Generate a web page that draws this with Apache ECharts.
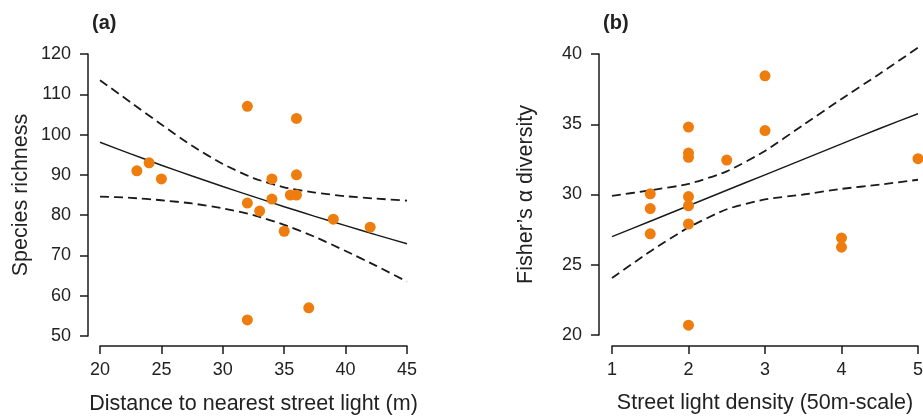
<!DOCTYPE html>
<html>
<head>
<meta charset="utf-8">
<script src="https://cdn.jsdelivr.net/npm/echarts@6/dist/echarts.min.js"></script>
<style>
  html, body { margin: 0; padding: 0; background: #fff; }
  #chart { width: 923px; height: 416px; }
</style>
</head>
<body>
<div id="chart"></div>
<script>
// panel (a): distance vs species richness
const distX = [23, 24, 25, 32, 36, 34, 36, 32, 33, 34, 35.5, 36, 35, 39, 42, 32, 37];
const richY = [91, 93, 89, 107, 104, 89, 90, 83, 81, 84, 85, 85, 76, 79, 77, 54, 57];
const fitAX = [20, 22.5, 25, 27.5, 30, 32.5, 35, 37.5, 40, 42.5, 45];
const fitA = [98.1, 95.2, 92.4, 89.7, 87.1, 84.6, 82.1, 79.7, 77.4, 75.1, 72.9];
const upA = [113.5, 108.0, 102.5, 97.2, 92.7, 89.2, 86.9, 85.6, 84.7, 84.1, 83.6];
const loA = [84.6, 84.3, 83.7, 82.9, 81.7, 80.0, 77.6, 74.6, 71.1, 67.4, 63.5];

// panel (b): light density vs Fisher's alpha
const densX = [1.5, 1.5, 1.5, 2, 2, 2, 2, 2, 2, 2, 2.5, 3, 3, 4, 4, 5];
const alphaY = [30.05, 29.0, 27.2, 34.8, 32.95, 32.65, 29.85, 29.2, 27.9, 20.7, 32.45, 38.45, 34.55, 26.9, 26.25, 32.55];
const fitBX = [1, 1.5, 2, 2.5, 3, 3.5, 4, 4.5, 5];
const fitB = [27.0, 28.1, 29.2, 30.3, 31.4, 32.5, 33.6, 34.7, 35.75];
const upB = [29.9, 30.3, 30.75, 31.65, 33.1, 34.95, 36.8, 38.6, 40.45];
const loB = [24.05, 25.95, 27.65, 28.95, 29.65, 30.0, 30.4, 30.7, 31.05];

const orange = '#EE7D0E';
const ink = '#1a1a1a';
const font = 'Liberation Sans, Arial, sans-serif';

const pairs = (xs, ys) => xs.map((x, i) => [x, ys[i]]);

const axisBase = {
  axisLine: { show: true, lineStyle: { color: ink, width: 1.5 } },
  axisTick: { show: true, length: 8, lineStyle: { color: ink, width: 1.5 } },
  axisLabel: { color: '#222', fontSize: 18, fontFamily: font, margin: 17 },
  splitLine: { show: false },
  nameLocation: 'middle',
  nameTextStyle: { color: '#222', fontSize: 21.5, fontFamily: font }
};
const xLabel = Object.assign({}, axisBase.axisLabel, { margin: 15 });

const lineSeries = (idx, data, dashed) => ({
  type: 'line',
  xAxisIndex: idx,
  yAxisIndex: idx,
  data: data,
  symbol: 'none',
  smooth: 0.2,
  clip: false,
  z: 2,
  lineStyle: { color: ink, width: dashed ? 1.8 : 1.5, type: dashed ? [9, 5] : 'solid' }
});

const chart = echarts.init(document.getElementById('chart'));
chart.setOption({
  animation: false,
  title: [
    { text: '(a)', left: 87, top: 8, textStyle: { fontSize: 20, fontWeight: 'bold', color: '#222', fontFamily: font } },
    { text: '(b)', left: 598, top: 8, textStyle: { fontSize: 20, fontWeight: 'bold', color: '#222', fontFamily: font } }
  ],
  grid: [
    { left: 100, top: 54, width: 307, height: 282, outerBoundsMode: 'none' },
    { left: 612, top: 54, width: 306, height: 281, outerBoundsMode: 'none' }
  ],
  xAxis: [
    Object.assign({}, axisBase, { gridIndex: 0, type: 'value', min: 20, max: 45, interval: 5, offset: 10,
      axisLabel: xLabel, name: 'Distance to nearest street light (m)', nameGap: 47 }),
    Object.assign({}, axisBase, { gridIndex: 1, type: 'value', min: 1, max: 5, interval: 1, offset: 11,
      axisLabel: xLabel, name: 'Street light density (50m-scale)', nameGap: 46 })
  ],
  yAxis: [
    Object.assign({}, axisBase, { gridIndex: 0, type: 'value', min: 50, max: 120, interval: 10, offset: 12,
      name: 'Species richness', nameGap: 56 }),
    Object.assign({}, axisBase, { gridIndex: 1, type: 'value', min: 20, max: 40, interval: 5, offset: 13,
      name: 'Fisher\u2019s \u03b1 diversity', nameGap: 62 })
  ],
  series: [
    lineSeries(0, pairs(fitAX, upA), true),
    lineSeries(0, pairs(fitAX, loA), true),
    lineSeries(0, pairs(fitAX, fitA), false),
    { type: 'scatter', xAxisIndex: 0, yAxisIndex: 0, data: pairs(distX, richY), symbolSize: 11,
      clip: false, z: 3, itemStyle: { color: orange, opacity: 1 } },
    lineSeries(1, pairs(fitBX, upB), true),
    lineSeries(1, pairs(fitBX, loB), true),
    lineSeries(1, pairs(fitBX, fitB), false),
    { type: 'scatter', xAxisIndex: 1, yAxisIndex: 1, data: pairs(densX, alphaY), symbolSize: 11,
      clip: false, z: 3, itemStyle: { color: orange, opacity: 1 } }
  ]
});
</script>
</body>
</html>
